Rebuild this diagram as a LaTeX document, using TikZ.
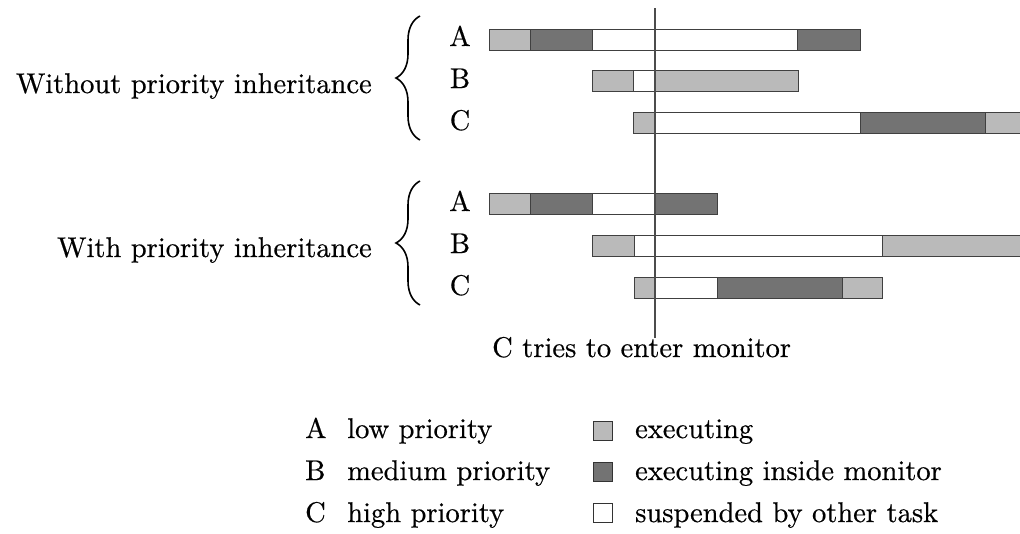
\documentclass[tikz,border=0pt]{standalone}
\usepackage{fontspec}
\setmainfont{lmroman10-regular.otf}[FakeBold=0.5]
\usetikzlibrary{decorations.pathreplacing}
\begin{document}
\begin{tikzpicture}[x=1pt,y=-1pt,
  exe/.style={draw=black!75, fill=black!27, line width=0.8pt},
  mon/.style={draw=black!75, fill=black!55, line width=0.8pt},
  susp/.style={draw=black!75, fill=white, line width=0.8pt},
  txt/.style={inner sep=0pt, anchor=base, font=\fontsize{28.5}{32}\selectfont},
  lbl/.style={txt, anchor=base west},
  bracestyle/.style={decorate, decoration={brace, amplitude=24pt}, line width=1.6pt},
  key/.style={draw=black!80, line width=0.9pt, minimum size=19pt, inner sep=0pt}]
\useasboundingbox (0,0) rectangle (1020,533);
% group 1
\draw[exe]  (489,29) rectangle (530,50);
\draw[mon]  (530,29) rectangle (592,50);
\draw[susp] (592,29) rectangle (797,50);
\draw[mon]  (797,29) rectangle (860,50);
\draw[exe]  (592,70) rectangle (633,91);
\draw[susp] (633,70) rectangle (654,91);
\draw[exe]  (654,70) rectangle (798,91);
\draw[exe]  (633,112) rectangle (654,133);
\draw[susp] (654,112) rectangle (860,133);
\draw[mon]  (860,112) rectangle (985,133);
\draw[exe]  (985,112) rectangle (1024,133);
% group 2
\draw[exe]  (489,193) rectangle (530,214);
\draw[mon]  (530,193) rectangle (592,214);
\draw[susp] (592,193) rectangle (654,214);
\draw[mon]  (654,193) rectangle (717,214);
\draw[exe]  (592,235) rectangle (634,256);
\draw[susp] (634,235) rectangle (882,256);
\draw[exe]  (882,235) rectangle (1024,256);
\draw[exe]  (634,277) rectangle (654,298);
\draw[susp] (654,277) rectangle (717,298);
\draw[mon]  (717,277) rectangle (842,298);
\draw[exe]  (842,277) rectangle (882,298);
% time marker
\coordinate (mtop) at (655,8);
\coordinate (mbot) at (655,338);
\node[lbl] (cmon) at (492,357) {C tries to enter monitor};
\draw[black!70, line width=1.4pt] (mtop) -- (mbot);
% group labels
\node[txt, anchor=base east] (without) at (372,93) {Without priority inheritance};
\node[txt, anchor=base east] (with) at (372,257) {With priority inheritance};
\coordinate (b1s) at (420,140); \coordinate (b1e) at (420,16);
\coordinate (b2s) at (420,305); \coordinate (b2e) at (420,181);
\draw[bracestyle] (b1s) -- (b1e);
\draw[bracestyle] (b2s) -- (b2e);
\node[txt] (a1) at (460,46) {A};
\node[txt] (bb1) at (460,88) {B};
\node[txt] (c1) at (460,130) {C};
\node[txt] (a2) at (460,211) {A};
\node[txt] (bb2) at (460,253) {B};
\node[txt] (c2) at (460,295) {C};
% legend
\node[lbl] (la) at (305,438) {A};
\node[lbl] (lat) at (347,438) {low priority};
\node[lbl] (lb) at (305,480) {B};
\node[lbl] (lbt) at (347,480) {medium priority};
\node[lbl] (lc) at (305,522) {C};
\node[lbl] (lct) at (347,522) {high priority};
\node[key, fill=black!27] (k1) at (603,431) {};
\node[lbl] (k1t) at (635,438) {executing};
\node[key, fill=black!55] (k2) at (603,472) {};
\node[lbl] (k2t) at (635,480) {executing inside monitor};
\node[key, fill=white] (k3) at (603,513) {};
\node[lbl] (k3t) at (635,522) {suspended by other task};
\end{tikzpicture}
\end{document}
